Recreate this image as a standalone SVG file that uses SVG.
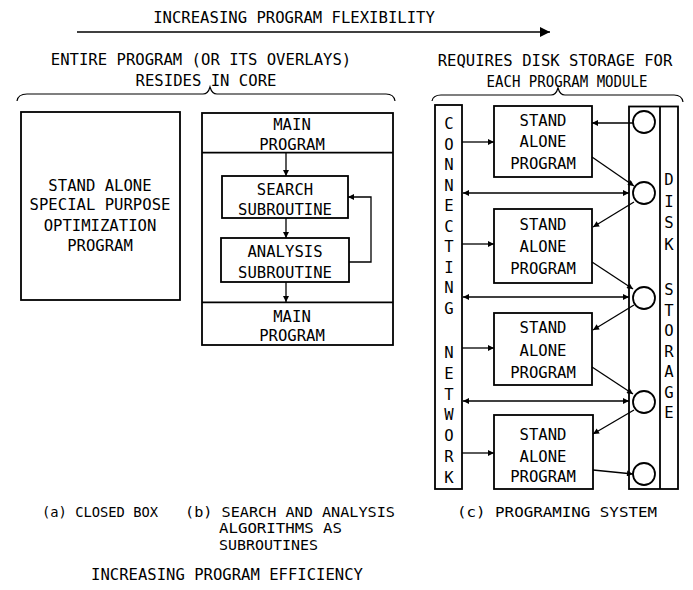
<svg xmlns="http://www.w3.org/2000/svg" width="693" height="590" viewBox="0 0 693 590">
<style>
text{font-family:"DejaVu Sans Mono","Liberation Mono",monospace;font-size:15.6px;fill:#000}
.m{text-anchor:middle}
.cap{font-size:13.6px}
.box{fill:none;stroke:#000;stroke-width:1.8}
.ln{fill:none;stroke:#000;stroke-width:1.3}
.br{fill:none;stroke:#000;stroke-width:1.2}
</style>
<defs>
<marker id="ah" viewBox="0 0 10 10" refX="10" refY="5" markerWidth="8" markerHeight="6" markerUnits="userSpaceOnUse" orient="auto-start-reverse">
<path d="M0,0 L10,5 L0,10 Z" fill="#000"/>
</marker>
<marker id="bh" viewBox="0 0 10 10" refX="10" refY="5" markerWidth="14" markerHeight="10" markerUnits="userSpaceOnUse" orient="auto">
<path d="M0,0 L10,5 L0,10 Z" fill="#000"/>
</marker>
</defs>
<rect width="693" height="590" fill="#fff"/>

<g id="headers">
<text class="m" x="294" y="22.5">INCREASING PROGRAM FLEXIBILITY</text>
<path class="ln" d="M77,32 L550,32" marker-end="url(#bh)"/>
<text class="m" x="201" y="65">ENTIRE PROGRAM (OR ITS OVERLAYS)</text>
<text class="m" x="206" y="86">RESIDES IN CORE</text>
<text class="m" x="555" y="66">REQUIRES DISK STORAGE FOR</text>
<text class="m" x="567" y="87" textLength="161" lengthAdjust="spacingAndGlyphs">EACH PROGRAM MODULE</text>
<path class="br" d="M17,101 Q18,94 27,94 L203,94 Q208,94 210,87 Q212,94 217,94 L386,94 Q394,94 395,101"/>
<path class="br" d="M432,101 Q433,95 441,95 L551,95 Q556,95 558,88 Q560,95 565,95 L674,95 Q682,95 683,102"/>
</g>

<g id="panel-a">
<rect class="box" x="21" y="112" width="159" height="188"/>
<text class="m" x="100" y="191">STAND ALONE</text>
<text class="m" x="100" y="210">SPECIAL PURPOSE</text>
<text class="m" x="100" y="231">OPTIMIZATION</text>
<text class="m" x="100" y="251">PROGRAM</text>
</g>

<g id="panel-b">
<rect class="box" x="202" y="113" width="191" height="232"/>
<g id="main-top">
<line class="box" x1="202" y1="152.7" x2="393" y2="152.7"/>
<text class="m" x="292" y="129.5">MAIN</text>
<text class="m" x="292" y="150">PROGRAM</text>
</g>
<g id="search">
<rect class="box" x="222" y="176" width="126" height="42"/>
<text class="m" x="285" y="195">SEARCH</text>
<text class="m" x="285" y="215">SUBROUTINE</text>
</g>
<g id="analysis">
<rect class="box" x="221" y="238" width="128" height="44"/>
<text class="m" x="285" y="257">ANALYSIS</text>
<text class="m" x="285" y="278">SUBROUTINE</text>
</g>
<g id="main-bottom">
<line class="box" x1="202" y1="302.3" x2="393" y2="302.3"/>
<text class="m" x="292" y="322">MAIN</text>
<text class="m" x="292" y="341">PROGRAM</text>
</g>
</g>

<g id="panel-c">
<g id="network">
<rect class="box" x="435" y="105" width="27" height="384"/>
<text class="m" x="449" y="129">C</text>
<text class="m" x="449" y="149.5">O</text>
<text class="m" x="449" y="170">N</text>
<text class="m" x="449" y="190.5">N</text>
<text class="m" x="449" y="211">E</text>
<text class="m" x="449" y="231.5">C</text>
<text class="m" x="449" y="252">T</text>
<text class="m" x="449" y="272.5">I</text>
<text class="m" x="449" y="293">N</text>
<text class="m" x="449" y="313.5">G</text>
<text class="m" x="449" y="358">N</text>
<text class="m" x="449" y="378.8">E</text>
<text class="m" x="449" y="399.6">T</text>
<text class="m" x="449" y="420.4">W</text>
<text class="m" x="449" y="441.2">O</text>
<text class="m" x="449" y="462">R</text>
<text class="m" x="449" y="482.8">K</text>
</g>
<g id="disk">
<rect class="box" x="629" y="106.5" width="49" height="382.5"/>
<line class="box" x1="660" y1="106.5" x2="660" y2="489"/>
<circle class="box" cx="644" cy="122" r="11"/>
<circle class="box" cx="644" cy="193" r="11"/>
<circle class="box" cx="644" cy="298" r="11"/>
<circle class="box" cx="644" cy="402" r="11"/>
<circle class="box" cx="644" cy="474" r="11"/>
<text class="m" x="669" y="185">D</text>
<text class="m" x="669" y="206.5">I</text>
<text class="m" x="669" y="228">S</text>
<text class="m" x="669" y="249.5">K</text>
<text class="m" x="669" y="295">S</text>
<text class="m" x="669" y="315.5">T</text>
<text class="m" x="669" y="336">O</text>
<text class="m" x="669" y="356.5">R</text>
<text class="m" x="669" y="377">A</text>
<text class="m" x="669" y="397.5">G</text>
<text class="m" x="669" y="418">E</text>
</g>
<g id="prog1">
<rect class="box" x="494" y="106" width="98" height="71"/>
<text class="m" x="543" y="126">STAND</text>
<text class="m" x="543" y="147">ALONE</text>
<text class="m" x="543" y="169">PROGRAM</text>
</g>
<g id="prog2">
<rect class="box" x="494" y="209" width="98" height="74"/>
<text class="m" x="543" y="230">STAND</text>
<text class="m" x="543" y="252">ALONE</text>
<text class="m" x="543" y="273.5">PROGRAM</text>
</g>
<g id="prog3">
<rect class="box" x="494" y="313" width="98" height="72"/>
<text class="m" x="543" y="333">STAND</text>
<text class="m" x="543" y="356">ALONE</text>
<text class="m" x="543" y="378">PROGRAM</text>
</g>
<g id="prog4">
<rect class="box" x="494" y="415" width="99" height="74"/>
<text class="m" x="543" y="440">STAND</text>
<text class="m" x="543" y="462">ALONE</text>
<text class="m" x="543" y="482">PROGRAM</text>
</g>
</g>

<g id="connectors">
<path class="ln" d="M286,153 L286,176" marker-end="url(#ah)"/>
<path class="ln" d="M286,218 L286,238" marker-end="url(#ah)"/>
<path class="ln" d="M286,282 L286,302" marker-end="url(#ah)"/>
<path class="ln" d="M349,262 L371,262 L371,197 L348,197" marker-end="url(#ah)"/>
<path class="ln" d="M462,142 L494,142" marker-end="url(#ah)"/>
<path class="ln" d="M462,244 L494,244" marker-end="url(#ah)"/>
<path class="ln" d="M462,348 L494,348" marker-end="url(#ah)"/>
<path class="ln" d="M462,453 L494,453" marker-end="url(#ah)"/>
<path class="ln" d="M463,193 L629,193" marker-start="url(#ah)" marker-end="url(#ah)"/>
<path class="ln" d="M463,297 L629,297" marker-start="url(#ah)" marker-end="url(#ah)"/>
<path class="ln" d="M463,401 L629,401" marker-start="url(#ah)" marker-end="url(#ah)"/>
<path class="ln" d="M633,123 L592,123" marker-end="url(#ah)"/>
<path class="ln" d="M592,157 L634,186" marker-end="url(#ah)"/>
<path class="ln" d="M634,202 L593,227" marker-end="url(#ah)"/>
<path class="ln" d="M592,262 L633,289" marker-end="url(#ah)"/>
<path class="ln" d="M634,305 L593,330" marker-end="url(#ah)"/>
<path class="ln" d="M592,367 L633,394" marker-end="url(#ah)"/>
<path class="ln" d="M634,410 L593,434" marker-end="url(#ah)"/>
<path class="ln" d="M593,470 L633,474" marker-end="url(#ah)"/>
</g>

<g id="captions">
<text class="cap" x="42" y="516.5" textLength="116" lengthAdjust="spacingAndGlyphs">(a) CLOSED BOX</text>
<text class="cap" x="185" y="516.5" textLength="210" lengthAdjust="spacingAndGlyphs">(b) SEARCH AND ANALYSIS</text>
<text class="cap" x="219" y="533" textLength="123" lengthAdjust="spacingAndGlyphs">ALGORITHMS AS</text>
<text class="cap" x="219" y="549.5" textLength="99" lengthAdjust="spacingAndGlyphs">SUBROUTINES</text>
<text class="cap" x="457" y="516.5" textLength="200" lengthAdjust="spacingAndGlyphs">(c) PROGRAMING SYSTEM</text>
<text x="91" y="580" textLength="272" lengthAdjust="spacingAndGlyphs">INCREASING PROGRAM EFFICIENCY</text>
</g>
</svg>
